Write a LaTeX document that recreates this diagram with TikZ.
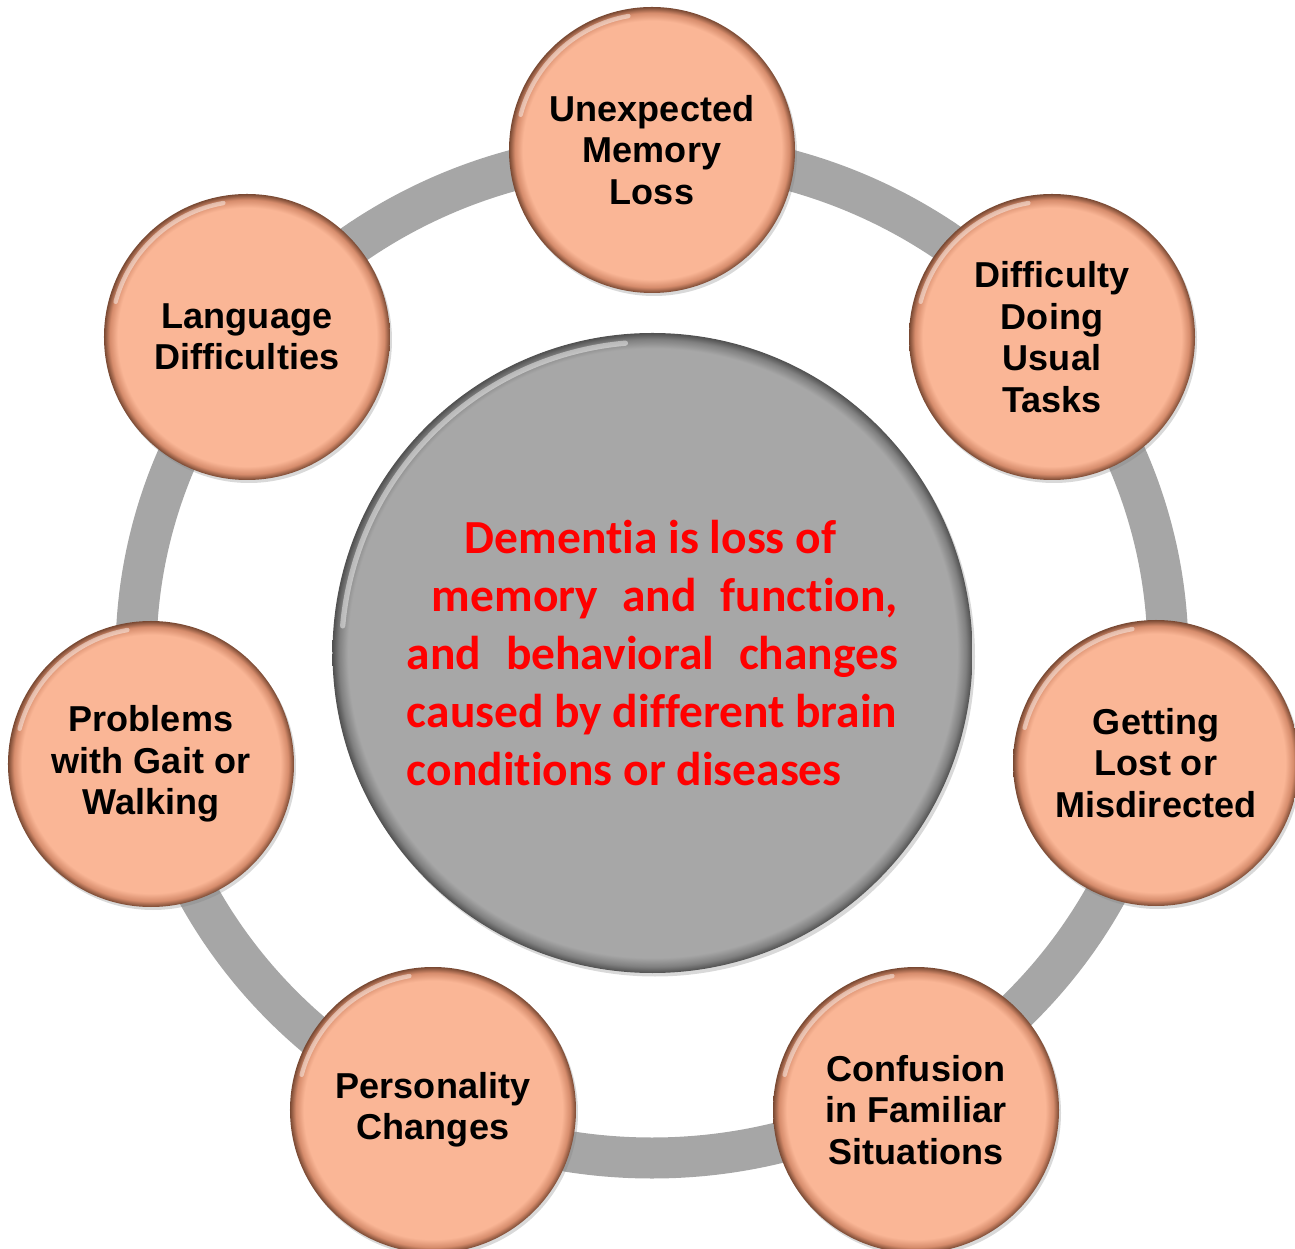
\documentclass[tikz,border=0pt]{standalone}
\usepackage{fontspec}
\setmainfont{Liberation Sans}
\newfontfamily\calibri[Ligatures=NoCommon]{Carlito}
\usepackage{tikz}
\usetikzlibrary{shadows}
\usepackage{xcolor}

\definecolor{peach}{RGB}{250,182,150}
\definecolor{peachedge}{RGB}{214,140,108}
\definecolor{peachrim}{RGB}{120,72,50}
\definecolor{coregray}{RGB}{167,167,167}
\definecolor{coreedge}{RGB}{128,128,128}
\definecolor{corerim}{RGB}{80,80,80}
\definecolor{ringgray}{RGB}{166,166,166}

\pgfdeclareradialshading{peachball}{\pgfpoint{0bp}{0bp}}{%
  color(0bp)=(peach); color(22.6bp)=(peach); color(24bp)=(peachedge);
  color(25bp)=(peachrim); color(50bp)=(peachrim)}
\pgfdeclareradialshading{grayball}{\pgfpoint{0bp}{0bp}}{%
  color(0bp)=(coregray); color(23.8bp)=(coregray); color(24.5bp)=(coreedge);
  color(25bp)=(corerim); color(50bp)=(corerim)}

% fixed word spaces for the centre text
\newcommand{\fixspaces}{\spaceskip=\fontdimen2\font\relax}

\tikzset{
    bubble/.style={
        circle,
        shade,
        shading=peachball,
        minimum size=5.72cm,
        inner sep=0pt,
        align=center,
        font=\bfseries\fontsize{20.5}{23.6}\selectfont,
        drop shadow={shadow xshift=0.04cm, shadow yshift=-0.06cm, opacity=0.3},
        path picture={
            \draw[white, opacity=0.45, line width=2.5pt, line cap=round]
              ([shift={(100:2.72cm)}]path picture bounding box.center)
              arc[start angle=100, end angle=165, radius=2.72cm];
        }
    },
    core/.style={
        circle,
        shade,
        shading=grayball,
        minimum size=12.8cm,
        text width=9.82cm,
        align=left,
        text=red,
        font=\calibri\bfseries\fontsize{27}{33}\selectfont,
        drop shadow={shadow xshift=0.05cm, shadow yshift=-0.07cm, opacity=0.3},
        path picture={
            \draw[white, opacity=0.45, line width=3pt, line cap=round]
              ([shift={(95:6.22cm)}]path picture bounding box.center)
              arc[start angle=95, end angle=175, radius=6.22cm];
        }
    }
}

\begin{document}
\begin{tikzpicture}
    \useasboundingbox (-13.04,-11.88) rectangle (12.86,13.10);

    % Ring
    \draw[ringgray, line width=0.82cm] (0,0) ellipse [x radius=10.32cm, y radius=10.06cm];

    % Centre
    \node[core] (dementia) at (0.01,0.04) {\fixspaces
        \hspace*{1.16cm}Dementia is loss of\\
        \hspace*{0.5cm}memory\hfill and\hfill function,\\
        and\hfill behavioral\hfill changes\\
        caused by different brain\\
        conditions or diseases};

    % Signs
    \node[bubble] (memory) at (0,10.10) {Unexpected\\Memory\\Loss};
    \node[bubble] (tasks) at (8.00,6.36) {Difficulty\\Doing\\Usual\\Tasks};
    \node[bubble] (lost) at (10.08,-2.16) {Getting\\Lost or\\Misdirected};
    \node[bubble] (confusion) at (5.28,-9.10) {Confusion\\in Familiar\\Situations};
    \node[bubble] (personality) at (-4.38,-9.10) {Personality\\Changes};
    \node[bubble] (gait) at (-10.02,-2.18) {Problems\\with Gait or\\Walking};
    \node[bubble] (language) at (-8.10,6.36) {Language\\Difficulties};
\end{tikzpicture}
\end{document}
